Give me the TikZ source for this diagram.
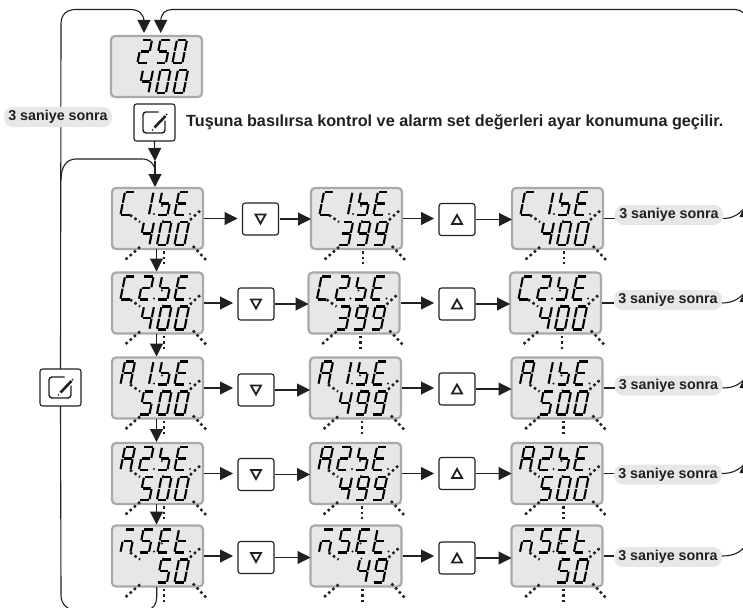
\documentclass[tikz,border=0pt]{standalone}
\usepackage{fontspec}
\setmainfont{Liberation Sans}
\usetikzlibrary{arrows.meta,calc}
\definecolor{ink}{HTML}{231F20}
\definecolor{lcd}{HTML}{E6E7E8}
\definecolor{rim}{HTML}{A7A9AC}
\tikzset{
  disp/.style={draw=rim,fill=lcd,line width=2.2pt,rounded corners=4pt,minimum width=91pt,minimum height=61pt,inner sep=0pt,outer sep=0pt,anchor=north west},
  btn/.style={draw=ink,fill=white,line width=1.1pt,rounded corners=2.5pt,minimum width=36pt,minimum height=32pt,inner sep=0pt,outer sep=0pt},
  ebtn/.style={btn,minimum width=41pt,minimum height=37pt},
  pill/.style={fill=lcd,rounded corners=9pt,minimum width=108pt,minimum height=20pt,inner sep=0pt,outer sep=0pt,text=ink,font=\fontsize{14.3}{14.3}\selectfont\bfseries},
  seg/.style={draw=black,line width=2.1pt},
  ray/.style={draw=ink,line width=2.5pt,dash pattern=on 2.5pt off 3pt},
  ln/.style={draw=ink,line width=1.1pt},
  arr/.style={ln,-{Triangle[length=13pt,width=13pt]}},
  tri/.style={draw=ink,line width=1.8pt,line join=miter},
}
\def\sega{\draw[seg] (.8,0)--(9.2,0);}
\def\segb{\draw[seg] (10,.8)--(10,10.8);}
\def\segc{\draw[seg] (10,12.2)--(10,22.2);}
\def\segd{\draw[seg] (.8,23)--(9.2,23);}
\def\sege{\draw[seg] (0,12.2)--(0,22.2);}
\def\segf{\draw[seg] (0,.8)--(0,10.8);}
\def\segg{\draw[seg] (.8,11.5)--(9.2,11.5);}
\def\segn{}
\expandafter\def\csname g0\endcsname{a,b,c,d,e,f}
\expandafter\def\csname g1\endcsname{b,c}
\expandafter\def\csname g2\endcsname{a,b,g,e,d}
\expandafter\def\csname g3\endcsname{a,b,g,c,d}
\expandafter\def\csname g4\endcsname{f,g,b,c}
\expandafter\def\csname g5\endcsname{a,f,g,c,d}
\expandafter\def\csname g9\endcsname{a,b,c,d,f,g}
\def\gC{a,f,e,d}
\def\gb{f,g,c,d}
\def\gE{a,f,g,e,d}
\def\gA{a,b,c,e,f,g}
\def\gN{a,g,e,c}
\def\gt{f,g,e,d}
\def\gx{n}
\newcommand\dg[3]{%
  \begin{scope}[shift={(#1,#2)},xslant=.2]
    \edef\glist{\csname g#3\endcsname}
    \foreach \s in \glist {\csname seg\s\endcsname}
  \end{scope}}
\newcommand\la[4]{\dg{13}{4}{#1}\dg{31.5}{4}{#2}\dg{50}{4}{#3}\dg{67}{4}{#4}}
\newcommand\lb[3]{\dg{32}{34}{#1}\dg{49.5}{34}{#2}\dg{67}{34}{#3}}
\newcommand\lt[3]{\dg{31}{4}{#1}\dg{49.5}{4}{#2}\dg{66}{4}{#3}}
\newcommand\pt[2]{\fill[ink] (#1,#2) circle (1.2);}
\newcommand\fl{%
  \draw[ray] (18,27)--(28,34);
  \draw[ray] (78,32)--(90,21);
  \draw[ray] (28,59)--(13,72);
  \draw[ray] (52,63)--(52,76);
  \draw[ray] (81,58)--(94,72);
  \pt{50}{18}\pt{42}{26}\pt{78}{26}\pt{51}{33}}
\newcommand\dsp[4]{%
  \node[disp] (#1) at (#2,#3) {};
  \begin{scope}[shift={(#1.north west)}]#4\end{scope}}
\newcommand\editicon[1]{%
  \begin{scope}[shift={(#1.center)}]
    \draw[ink,line width=1.4pt,rounded corners=3pt] (4,-10.5)--(-11.5,-10.5)--(-11.5,10.5)--(10.5,10.5)--(10.5,-2);
    \draw[ink,line width=2.6pt] (0,5)--(11,-6.5);
    \fill[ink] (12,-8) circle (1);
    \fill[ink] (-2,7.5) circle (.9);
  \end{scope}}
\newcommand\dn[1]{\draw[tri,shift={(#1.center)}] (-5,-4.5)--(5,-4.5)--(0,4.5)--cycle;}
\newcommand\up[1]{\draw[tri,shift={(#1.center)}] (-5,4.5)--(5,4.5)--(0,-4.5)--cycle;}
\begin{document}
\begin{tikzpicture}[x=1pt,y=-1pt]
\path[use as bounding box] (0,0) rectangle (743,607);
\clip (0,0) rectangle (743,607);
% displays
\dsp{t}{111}{36}{\lt 250\lb 400}
\dsp{d11}{112}{188}{\la C1bE\lb 400\fl}
\dsp{d12}{311}{188}{\la C1bE\lb 399\fl}
\dsp{d13}{512}{188}{\la C1bE\lb 400\fl}
\dsp{d21}{112}{272.5}{\la C2bE\lb 400\fl}
\dsp{d22}{308.5}{272.5}{\la C2bE\lb 399\fl}
\dsp{d23}{510}{272.5}{\la C2bE\lb 400\fl}
\dsp{d31}{112}{357.5}{\la A1bE\lb 500\fl}
\dsp{d32}{310}{357.5}{\la A1bE\lb 499\fl}
\dsp{d33}{511.5}{357.5}{\la A1bE\lb 500\fl}
\dsp{d41}{112}{443}{\la A2bE\lb 500\fl}
\dsp{d42}{310}{443}{\la A2bE\lb 499\fl}
\dsp{d43}{511.5}{443}{\la A2bE\lb 500\fl}
\dsp{d51}{112}{525.5}{\la N5Et\lb x50\fl}
\dsp{d52}{310.5}{525.5}{\la N5Et\lb x49\fl}
\dsp{d53}{511.5}{525.5}{\la N5Et\lb x50\fl}
% buttons
\node[ebtn] (edit) at (154.5,122.5) {};
\node[ebtn] (lb) at (60.5,387.5) {};
\node[btn] (a1) at (260.5,219) {};
\node[btn] (a2) at (256,304) {};
\node[btn] (a3) at (256,390) {};
\node[btn] (a4) at (256,474.5) {};
\node[btn] (a5) at (256,557.5) {};
\node[btn] (u1) at (457,219.5) {};
\node[btn] (u2) at (457,304) {};
\node[btn] (u3) at (457,389) {};
\node[btn] (u4) at (457,473.5) {};
\node[btn] (u5) at (457,558) {};
\dn{a1}\dn{a2}\dn{a3}\dn{a4}\dn{a5}
\up{u1}\up{u2}\up{u3}\up{u4}\up{u5}
\editicon{edit}\editicon{lb}
% pills
\node[pill] (p1) at (669,215) {3 saniye sonra};
\node[pill] (p2) at (668,300) {3 saniye sonra};
\node[pill] (p3) at (668.5,385.5) {3 saniye sonra};
\node[pill] (p4) at (668,474.5) {3 saniye sonra};
\node[pill] (p5) at (668,557) {3 saniye sonra};
\node[anchor=west,inner sep=0pt,text=ink,font=\fontsize{16.2}{16.2}\selectfont\bfseries] (note) at (186,122) {Tuşuna basılırsa kontrol ve alarm set değerleri ayar konumuna geçilir.};
% row connectors
\foreach \r in {1,...,5}{
  \draw[arr,shorten >=5pt,shorten <=1pt] (d\r1.east) -- (d\r1.east -| a\r.west);
  \draw[arr,shorten <=1pt] (a\r.east) -- (a\r.east -| d\r2.west);
  \draw[arr,shorten >=5pt,shorten <=1pt] (d\r2.east) -- (d\r2.east -| u\r.west);
  \draw[arr,shorten <=1pt] (u\r.east) -- (u\r.east -| d\r3.west);
  \draw[ln,shorten <=1pt] (d\r3.east) -- (d\r3.east -| p\r.west);
}
% column connectors
\foreach \a/\b in {d11/d21,d21/d31,d31/d41,d41/d51}{
  \draw[arr,shorten >=1pt] ([xshift=-1pt]\a.south) -- ([xshift=-1pt]\b.north);
}
% edit button to first display
\coordinate (m) at (155,161);
\draw[arr] (edit.south) -- (m);
\draw[arr,shorten >=1pt] (m) -- (m |- d11.north);
% left loops
\coordinate (tl) at ($(t.north west)+(33,-3)$);
\coordinate (tr) at ($(t.north west)+(49.7,-3)$);
\draw[arr] (lb.north) -- (61,24) .. controls (61,14) and (67,9.5) .. (76,9.5) -- (130,9.5) .. controls (139,9.5) and (144,14) .. (144,22) -- (tl);
\draw[ln] (61,180) .. controls (61,166) and (67,159) .. (76,159) -- (142,159) .. controls (150,159) and (155,164) .. (155,172);
\draw[ln] (lb.south) -- (61,595) .. controls (61,604) and (67,610) .. (76,610) -- (146,610) .. controls (153,610) and (156.7,604) .. (156.7,597) -- (156.7,587);
\node[pill] (p0) at (58,117) {3 saniye sonra};
% return line on the right
\draw[arr] (746,560) -- (746,22) .. controls (746,14) and (742,9.5) .. (735,9.5) -- (172,9.5) .. controls (165,9.5) and (160.7,14) .. (160.7,22) -- (tr);
\foreach \r/\yy in {1/217,2/302,3/388,4/473}{
  \draw[arr] (746,\yy) -- (746,\yy-13);
  \draw[ln] (p\r.east |- d\r3.east) .. controls +(10,0) and (740,\yy-3) .. (746,\yy-11);
}
\draw[ln] (p5.east |- d53.east) .. controls +(12,0) and (741,552) .. (746,545);
\end{tikzpicture}
\end{document}
